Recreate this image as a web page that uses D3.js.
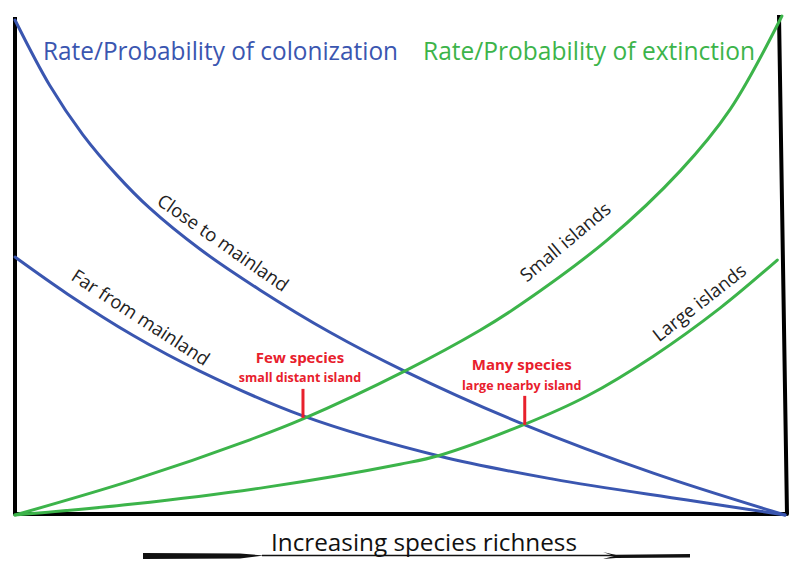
<!DOCTYPE html>
<html>
<head>
<meta charset="utf-8">
<script src="https://cdn.jsdelivr.net/npm/d3@7"></script>
<style>
  body { margin: 0; background: #fff; }
  svg { display: block; }
</style>
</head>
<body>
<div class="canvas"></div>
<script>
// curves: [species richness 0-100, rate 0-100]
const closeToMainland = [[0, 99.4], [4.5, 86.3], [8.8, 76.4], [13.2, 68.3], [17.5, 61.6], [24, 53.4],
    [31.8, 45.2], [40.9, 36.7], [50.6, 28.9], [66.2, 18.1], [82.9, 8.4], [100, 0]];
const farFromMainland = [[0, 51.8], [6.8, 44.4], [15.3, 36.1], [24, 28.9], [37.4, 19.9], [55.2, 11.8],
    [69.9, 7.2], [87.3, 3], [100, 0]];
const smallIslands = [[0, 0], [15.3, 7], [30.5, 15.1], [37.4, 19.3], [50.6, 28.9], [60.4, 37.1],
    [65.6, 42.2], [76.9, 55.2], [86.4, 69.1], [92.9, 81.5], [99.6, 100.2]];
const largeIslands = [[0, 0], [15.3, 2.2], [32.7, 5.6], [50, 10.2], [55.2, 12], [66, 18.1], [74.3, 23.9],
    [82.9, 31.9], [91.6, 41.6], [99, 51.2]];

// equilibrium points
const equilibria = [
    {x: 37.4, y: 19.5, title: 'Few species', sub: 'small distant island'},
    {x: 66.2, y: 18.1, title: 'Many species', sub: 'large nearby island'}
];

const curveLabels = [
    {text: 'Close to mainland', x: 26.9, y: 54.4, angle: 35},
    {text: 'Far from mainland', x: 16.2, y: 39.4, angle: 33},
    {text: 'Small islands', x: 71.6, y: 54.6, angle: -40},
    {text: 'Large islands', x: 89, y: 42.4, angle: -38}
];

const blue = '#3a56b0';
const green = '#3cb44a';
const red = '#e8202c';

const svg = d3.select('.canvas')
    .append('svg')
        .attr('width', 795)
        .attr('height', 562);

const x = d3.scaleLinear().domain([0, 100]).range([15, 785]);
const y = d3.scaleLinear().domain([0, 100]).range([515, 17]);

const line = d3.line()
    .x(d => x(d[0]))
    .y(d => y(d[1]))
    .curve(d3.curveCatmullRom.alpha(0.5));

// frame
svg.append('path')
    .attr('fill', 'none')
    .attr('stroke', '#000')
    .attr('stroke-width', 4)
    .attr('stroke-linejoin', 'round')
    .attr('d', `M${x(0)},${y(100)} L${x(0)},${y(0) - 1} L${x(100) + 2},${y(0) - 1} L${x(100) - 6},${y(100.4)}`);

// curves
const series = [
    {data: closeToMainland, colour: blue},
    {data: farFromMainland, colour: blue},
    {data: smallIslands, colour: green},
    {data: largeIslands, colour: green}
];

svg.selectAll('path.curve')
    .data(series)
    .enter()
    .append('path')
    .attr('class', 'curve')
    .attr('fill', 'none')
    .attr('stroke', d => d.colour)
    .attr('stroke-width', 3)
    .attr('stroke-linecap', 'round')
    .attr('d', d => line(d.data));

// titles
svg.append('text')
    .attr('x', 43)
    .attr('y', 60)
    .attr('fill', blue)
    .attr('font-family', 'Open Sans')
    .attr('font-size', 25)
    .attr('textLength', 355)
    .attr('lengthAdjust', 'spacingAndGlyphs')
    .text('Rate/Probability of colonization');

svg.append('text')
    .attr('x', 423)
    .attr('y', 60)
    .attr('fill', green)
    .attr('font-family', 'Open Sans')
    .attr('font-size', 25)
    .attr('textLength', 332)
    .attr('lengthAdjust', 'spacingAndGlyphs')
    .text('Rate/Probability of extinction');

// curve labels
svg.selectAll('text.curve-label')
    .data(curveLabels)
    .enter()
    .append('text')
    .attr('class', 'curve-label')
    .attr('fill', '#222')
    .attr('font-family', 'Open Sans')
    .attr('font-size', 18.5)
    .attr('text-anchor', 'middle')
    .attr('dominant-baseline', 'middle')
    .attr('transform', d => `translate(${x(d.x)},${y(d.y)}) rotate(${d.angle})`)
    .text(d => d.text);

// equilibrium markers
const eq = svg.selectAll('g.eq')
    .data(equilibria)
    .enter()
    .append('g')
    .attr('class', 'eq');

eq.append('line')
    .attr('stroke', red)
    .attr('stroke-width', 3)
    .attr('x1', d => x(d.x))
    .attr('x2', d => x(d.x))
    .attr('y1', d => y(d.y))
    .attr('y2', d => y(d.y) - 29);

eq.append('text')
    .attr('fill', red)
    .attr('font-family', 'Open Sans')
    .attr('font-weight', 'bold')
    .attr('font-size', 15)
    .attr('text-anchor', 'middle')
    .attr('x', d => x(d.x) - 3)
    .attr('y', (d, i) => i === 0 ? 363 : 370)
    .text(d => d.title);

eq.append('text')
    .attr('fill', red)
    .attr('font-family', 'Open Sans')
    .attr('font-weight', 'bold')
    .attr('font-size', 12.5)
    .attr('text-anchor', 'middle')
    .attr('x', d => x(d.x) - 3)
    .attr('y', (d, i) => i === 0 ? 382 : 389.5)
    .text(d => d.sub);

// x axis label and arrow
svg.append('text')
    .attr('x', 271)
    .attr('y', 551)
    .attr('fill', '#111')
    .attr('font-family', 'Open Sans')
    .attr('font-size', 23)
    .attr('textLength', 306)
    .attr('lengthAdjust', 'spacingAndGlyphs')
    .text('Increasing species richness');

svg.append('line')
    .attr('stroke', '#111')
    .attr('stroke-width', 1.5)
    .attr('x1', 262).attr('y1', 555.5)
    .attr('x2', 690).attr('y2', 555.5);

svg.append('path')
    .attr('fill', '#111')
    .attr('d', 'M143,553 L240,553.5 L264,555.5 L240,558.5 L143,559 Z');

svg.append('path')
    .attr('fill', '#111')
    .attr('d', 'M603,552 L616,555 L690,554 L690,557.5 L616,558 L603,559 L614,556 Z');
</script>
</body>
</html>
